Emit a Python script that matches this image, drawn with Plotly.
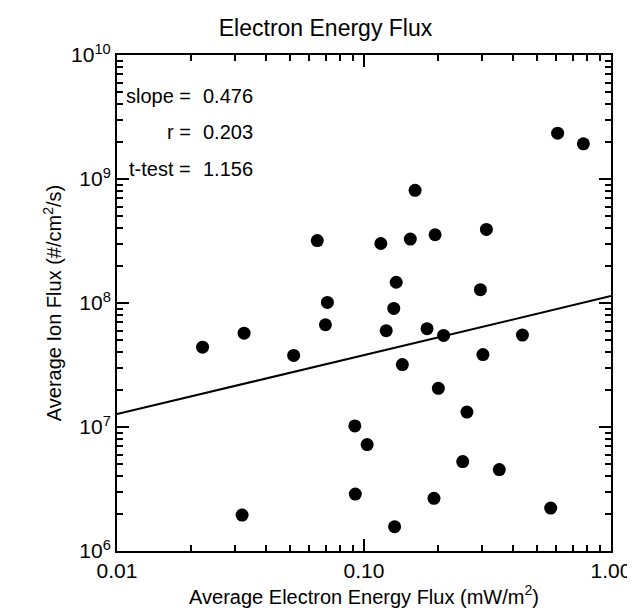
import numpy as np
import plotly.graph_objects as go

# values
elec_flux = [0.0222, 0.0327, 0.0519, 0.0647, 0.0711, 0.0698, 0.0918, 0.0922, 0.0321,
             0.103, 0.133, 0.192, 0.251, 0.353, 0.570, 0.261, 0.200, 0.143, 0.303,
             0.210, 0.180, 0.123, 0.438, 0.132, 0.135, 0.296, 0.117, 0.154, 0.194,
             0.313, 0.161, 0.608, 0.773]
ion_flux = [4.40e7, 5.71e7, 3.78e7, 3.19e8, 1.01e8, 6.68e7, 1.02e7, 2.88e6, 1.95e6,
            7.21e6, 1.57e6, 2.66e6, 5.26e6, 4.54e6, 2.22e6, 1.32e7, 2.05e7, 3.19e7, 3.84e7,
            5.48e7, 6.21e7, 5.98e7, 5.51e7, 9.04e7, 1.47e8, 1.28e8, 3.02e8, 3.28e8, 3.55e8,
            3.92e8, 8.11e8, 2.34e9, 1.92e9]

slope = 0.476
intercept = 7.104  # log10 of fit at x = 0.01
fit_x = [0.01, 1.0]
fit_y = [10 ** (intercept + slope * (np.log10(x) + 2)) for x in fit_x]

stats_names = ["slope =", "r =", "t-test ="]
stats_values = ["0.476", "0.203", "1.156"]

x_minor = [m * 10.0 ** e for e in (-2, -1) for m in range(2, 10)]
y_minor = [m * 10.0 ** e for e in (6, 7, 8, 9) for m in range(2, 10)]

font = dict(family="Liberation Sans, Arial, sans-serif", size=20, color="black")

fig = go.Figure()
fig.add_trace(go.Scatter(x=fit_x, y=fit_y, mode="lines",
                         line=dict(color="black", width=2), showlegend=False))
fig.add_trace(go.Scatter(x=elec_flux, y=ion_flux, mode="markers",
                         marker=dict(color="black", size=13), showlegend=False))

for i, (n, v) in enumerate(zip(stats_names, stats_values)):
    yy = 0.944 - i * 0.074
    fig.add_annotation(x=0.154, y=yy, xref="paper", yref="paper", text=n,
                       showarrow=False, xanchor="right", font=font)
    fig.add_annotation(x=0.17, y=yy, xref="paper", yref="paper", text=v,
                       showarrow=False, xanchor="left", font=font)

axis_common = dict(type="log", showgrid=False, zeroline=False, showline=True,
                   linecolor="black", linewidth=2, mirror="allticks",
                   ticks="inside", ticklen=12, tickwidth=2, tickcolor="black",
                   tickfont=dict(size=21))

fig.update_xaxes(range=[-2, 0], tickvals=[0.01, 0.1, 1.0],
                 ticktext=["0.01", "0.10", "1.00"],
                 minor=dict(tickvals=x_minor, ticks="inside", ticklen=6,
                            tickwidth=1.5, tickcolor="black"),
                 title=dict(text="Average Electron Energy Flux (mW/m<sup>2</sup>)",
                            font=font, standoff=2), **axis_common)
fig.update_yaxes(range=[6, 10], tickvals=[1e6, 1e7, 1e8, 1e9, 1e10],
                 ticktext=["10<sup>6</sup>", "10<sup>7</sup>", "10<sup>8</sup>",
                           "10<sup>9</sup>", "10<sup>10</sup>"],
                 minor=dict(tickvals=y_minor, ticks="inside", ticklen=6,
                            tickwidth=1.5, tickcolor="black"),
                 title=dict(text="Average Ion Flux (#/cm<sup>2</sup>/s)",
                            font=font, standoff=4), **axis_common)

fig.update_layout(
    width=635, height=608,
    margin=dict(l=109, r=26, t=47, b=65),
    paper_bgcolor="white", plot_bgcolor="white",
    font=font,
    title=dict(text="Electron Energy Flux", x=0.5, xanchor="center",
               y=0.98, yanchor="top", font=dict(size=23)),
)

fig.write_html("out.html")
